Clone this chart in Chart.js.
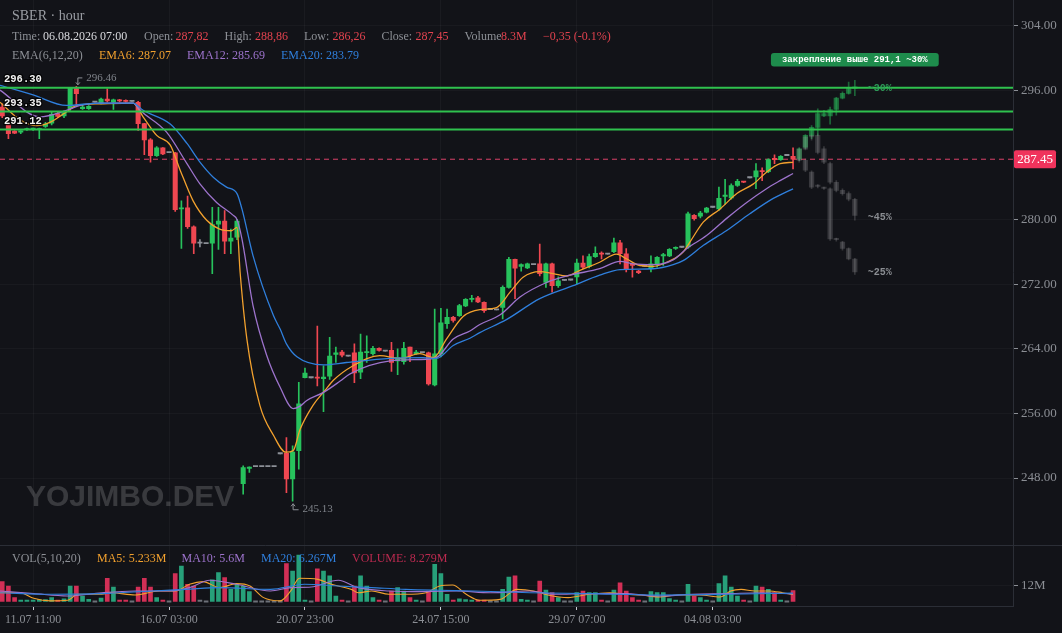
<!DOCTYPE html>
<html><head><meta charset="utf-8">
<script src="https://cdn.jsdelivr.net/npm/chart.js@4/dist/chart.umd.min.js"></script>
<style>html,body{margin:0;padding:0;background:#121318;}canvas{display:block}</style>
</head><body>
<canvas id="c" width="1062" height="633"></canvas>
<script>
// ---------- DATA ----------
const timeLabels = ['11.07 11:00','16.07 03:00','20.07 23:00','24.07 15:00','29.07 07:00','04.08 03:00'];
const timeLabelIdx = [5,27,49,71,93,115];
const opens = [293.9,291.84,290.93,290.8,291.1,291.15,291.1,291.5,291.9,293.1,
 292.8,293.7,296.2,293.7,293.7,294.5,294.4,294.9,294.5,294.75,
 294.7,294.6,294.5,291.85,289.85,287.9,288.85,288.25,288.25,281.3,
 281.45,279.1,277.05,277.0,277.05,279.4,279.8,277.3,277.8,247.3,
 249.2,249.4,249.4,249.4,249.4,251.0,251.05,247.88,251.4,260.43,
 260.4,260.5,260.3,260.6,263.3,263.6,263.07,263.5,261.1,263.5,
 263.4,264.06,263.7,263.8,262.5,262.4,264.2,263.4,263.5,263.5,
 259.52,263.36,267.1,267.9,268.1,269.3,270.1,270.3,269.75,268.85,
 268.8,269.1,271.6,275.05,274.2,274.0,274.4,274.5,272.2,274.5,
 271.8,272.45,272.5,272.9,274.6,274.2,275.4,275.8,275.7,276.0,
 277.1,275.75,274.4,273.6,274.2,273.9,274.5,275.5,275.5,276.4,
 276.55,276.6,280.5,280.4,280.9,281.5,281.3,282.85,282.65,284.2,
 284.65,285.15,285.25,285.95,285.9,287.45,287.4,287.9,287.82];
const highs = [294.3,292.0,291.0,291.0,291.3,291.3,291.3,292.0,293.3,293.3,
 293.4,296.3,296.46,294.2,294.1,294.5,295.0,296.15,294.9,294.85,
 294.8,294.6,294.6,291.9,290.0,289.0,288.9,288.25,288.3,282.3,
 282.9,279.2,277.5,277.0,281.5,281.5,281.1,278.8,280.0,249.5,
 249.4,249.4,249.4,249.4,249.4,251.0,253.0,252.0,259.85,261.6,
 260.4,266.8,261.9,265.4,264.2,263.8,263.07,264.6,265.8,265.6,
 264.3,264.1,263.7,264.8,264.0,264.8,264.2,263.8,263.5,263.6,
 268.9,269.0,268.9,268.0,269.5,270.2,270.6,270.5,269.8,268.85,
 268.8,271.8,275.3,275.1,274.5,274.6,274.4,276.95,274.6,274.6,
 272.9,272.45,272.5,275.1,275.5,275.7,276.6,276.0,275.7,277.7,
 277.4,276.4,274.5,273.7,274.2,275.5,275.4,275.8,276.4,276.6,
 276.55,280.9,280.6,281.0,281.5,281.5,284.0,284.95,284.4,284.95,
 284.7,285.15,286.9,286.4,287.5,288.0,287.9,287.9,288.86];
const lows = [292.6,290.0,290.6,290.6,291.0,291.0,290.0,291.4,291.7,292.6,
 292.6,293.5,294.1,293.6,293.6,294.5,294.3,294.5,293.6,294.55,
 294.5,294.6,291.0,288.0,287.1,287.8,288.0,288.25,281.0,276.4,
 278.9,275.75,276.6,277.0,273.3,276.3,275.75,275.75,277.5,246.0,
 248.7,249.4,249.4,249.4,249.4,251.0,246.2,245.13,249.1,260.4,
 260.4,259.4,256.2,260.2,262.3,263.0,263.07,259.8,260.3,262.3,
 263.2,263.7,263.7,261.2,260.8,262.1,262.4,263.3,263.5,259.5,
 259.4,263.0,266.5,267.3,268.0,269.2,269.8,269.7,268.5,268.85,
 268.8,267.7,271.5,270.2,273.6,273.9,274.4,273.0,271.6,271.0,
 271.6,272.45,272.5,272.0,273.9,274.0,275.3,275.1,275.7,275.9,
 274.5,273.5,272.85,273.3,274.2,273.5,274.1,274.3,275.4,276.3,
 276.55,276.4,279.9,280.2,280.8,281.5,281.1,281.9,282.5,284.1,
 284.55,285.15,283.8,284.8,285.8,286.9,287.3,287.9,286.26];
const closes = [292.8,290.6,290.68,290.85,291.2,291.2,291.2,291.8,293.0,292.75,
 293.2,296.3,295.55,293.9,294.0,294.5,294.9,294.65,294.8,294.65,
 294.6,294.6,291.85,289.85,287.9,288.85,288.1,288.25,281.2,281.45,
 279.1,277.05,277.05,277.0,279.35,279.8,277.3,277.7,279.8,249.3,
 249.35,249.4,249.4,249.4,249.4,251.0,247.88,251.2,257.2,261.0,
 260.4,260.35,260.5,263.1,263.5,263.2,263.07,261.0,263.6,263.6,
 264.06,263.8,263.7,262.3,262.9,264.06,263.15,263.6,263.5,259.65,
 263.36,267.2,267.9,267.5,269.35,270.1,270.2,269.8,268.7,268.85,
 268.8,271.6,275.05,273.97,274.4,274.5,274.4,273.3,274.5,271.8,
 272.4,272.45,272.5,274.6,274.1,275.4,275.8,275.7,275.7,277.1,
 275.75,273.9,274.3,273.4,274.2,274.5,275.3,275.6,276.3,276.5,
 276.55,280.7,280.1,280.8,281.4,281.5,282.6,282.9,284.2,284.7,
 284.6,285.15,286.0,285.9,287.4,287.4,287.8,287.9,287.45];
const volumes = [14.9,11.6,2.9,0.3,0.3,0.3,1.5,1.5,3.0,1.0,
 2.0,11.6,11.6,4.1,1.6,0,2.5,17.4,10.9,0.3,
 0.3,0,10.9,17.4,10.9,2.9,0.5,0,20.9,26.6,
 12.9,11.6,0.3,0,16.2,21.7,17.9,9.1,12.9,11.6,
 7.4,0,0,0,0,0,28.4,22.9,34.9,1.0,
 0,24.6,22.9,19.2,4.1,0.5,0,11.6,19.2,11.6,
 2.9,0.5,0,7.9,10.4,7.9,2.9,0.5,0,7.9,
 27.9,20.9,5.4,0.5,2.0,1.5,0.5,0.5,1.0,0,
 0,9.1,18.4,19.2,1.6,1.0,0,15.4,8.6,6.6,
 2.9,0,0,6.6,7.9,6.6,6.6,1.1,0,8.6,
 14.1,7.9,2.9,0.5,0,7.4,6.6,6.6,2.1,0.5,
 0,12.9,4.1,2.9,1.1,0,13.4,19.2,10.9,4.1,
 0.5,0,11.6,10.9,9.1,6.6,0.5,0,8.279];
// EMA lines: [candle index, price]
const ema6 = [[-0.36,294.5],[2.9,292.3],[5.6,291.6],[7.7,292.0],[10.4,293.3],[12.1,294.1],[15.8,294.3],[21.2,294.4],[22.8,292.7],[25.0,290.4],[27.2,289.2],[28.8,286.1],[30.9,282.3],[33.1,279.9],[35.2,278.8],[37.1,278.6],[38.0,279.0],[38.5,273.5],[39.6,265.2],[41.7,257.0],[43.9,253.3],[45.9,251.2],[47.1,251.4],[48.2,254.0],[50.3,257.0],[52.2,258.8],[53.6,260.1],[56.8,261.9],[61.1,263.15],[64.4,262.8],[67.6,263.4],[69.8,262.9],[71.9,265.2],[74.6,268.0],[77.3,268.85],[80.0,269.1],[82.2,271.0],[84.3,272.85],[87.0,273.55],[89.2,273.3],[91.3,273.0],[93.5,273.7],[96.7,274.7],[99.4,275.7],[101.1,275.1],[103.2,274.3],[105.4,274.2],[108.1,274.9],[110.2,275.95],[111.3,277.2],[113.5,279.7],[116.2,281.3],[118.9,283.2],[121.6,284.4],[123.7,285.85],[125.9,286.9],[128,287.07]];
const ema12 = [[-0.36,296.0],[6.1,292.7],[10.4,293.5],[12.6,294.1],[15.8,294.4],[21.2,294.4],[22.3,293.5],[26.6,290.8],[29.9,286.9],[32.0,284.4],[34.7,282.1],[37.4,280.5],[38.0,280.0],[38.8,277.6],[40.6,269.3],[42.8,263.2],[45.0,259.2],[47.1,256.6],[48.2,256.9],[49.3,257.6],[52.0,258.6],[54.7,260.0],[56.3,260.9],[62.8,262.5],[68.7,262.7],[70.3,262.9],[73.0,265.2],[75.7,266.2],[77.3,267.0],[80.6,268.2],[83.8,270.4],[88.1,272.2],[91.9,273.1],[96.7,273.9],[100.0,274.8],[102.1,274.5],[105.4,274.4],[108.6,275.0],[110.8,276.4],[114.0,278.0],[117.2,280.1],[120.5,282.1],[123.7,283.8],[125.9,284.8],[128,285.69]];
const ema20 = [[-0.36,296.6],[5.0,295.4],[10.4,294.1],[15.8,294.4],[21.2,294.4],[22.8,293.5],[27.2,291.8],[29.9,289.4],[32.0,287.1],[34.2,285.2],[36.3,284.0],[38.0,283.2],[38.8,281.3],[40.6,275.5],[43.9,268.1],[45.0,266.4],[46.0,264.6],[47.7,263.0],[52.0,262.0],[55.7,262.3],[62.8,262.8],[68.1,262.9],[70.3,262.8],[73.0,264.4],[75.7,265.3],[77.3,266.0],[81.6,267.6],[87.0,270.2],[92.4,271.8],[96.7,273.1],[100.0,273.8],[105.4,273.9],[108.6,274.4],[110.2,274.9],[113.5,276.8],[117.2,278.6],[121.0,280.7],[124.8,282.6],[128,283.79]];
// Volume moving averages: [candle index, millions]
const volMa5 = [[-0.36,6.6],[2.9,6.6],[5.1,2.4],[7.8,0.5],[10.6,0.9],[12.2,5.4],[16.1,5.4],[17.7,6.6],[21.5,4.9],[25.4,7.9],[28.1,7.9],[30.3,12.9],[32.5,14.9],[35.2,10.4],[37.9,13.4],[40.1,11.6],[42.3,2.9],[45.0,0.5],[46.7,7.9],[48.1,17.4],[51.1,16.6],[53.3,12.9],[56.5,9.1],[57.6,6.6],[59.8,7.9],[62.6,5.4],[65.3,5.4],[68.6,6.6],[70.8,11.6],[72.9,12.4],[75.1,5.4],[77.3,0.9],[80.6,1.6],[83.3,9.1],[86.0,7.9],[88.3,4.9],[91.6,2.9],[95.0,5.4],[98.3,6.6],[101.1,5.4],[103.4,4.9],[106.2,3.4],[109.5,4.9],[112.9,4.9],[116.2,3.4],[117.9,7.9],[119.6,9.1],[121.8,7.9],[124.1,7.9],[126.3,6.6],[128,5.233]];
const volMa10 = [[-0.36,7.9],[5.1,5.9],[10.6,4.1],[16.1,6.6],[21.5,7.9],[27.0,7.9],[30.3,10.4],[33.6,15.9],[37.9,12.9],[43.4,7.9],[46.7,10.4],[50.0,10.9],[54.4,15.9],[57.6,10.4],[62.6,7.9],[68.0,7.4],[73.5,7.9],[79.0,6.6],[85.4,7.9],[89.4,5.4],[95.0,5.9],[100.6,5.9],[106.2,4.1],[111.7,5.4],[117.3,5.9],[122.9,6.6],[128,5.6]];
const volMa20 = [[-0.36,6.6],[7.8,5.4],[16.1,5.9],[24.3,7.9],[29.7,9.1],[35.2,10.4],[43.4,9.1],[48.9,12.9],[54.4,11.6],[59.8,10.4],[65.3,9.1],[70.8,8.4],[76.2,7.9],[85.4,6.6],[95.0,5.9],[106.2,4.9],[117.3,5.4],[128,6.267]];
// Levels and scenario projections ([open, high, low, close] from index projStart)
const levels = [296.30, 293.35, 291.12];
const lastClose = 287.45;
const projStart = 129;
const proj30 = [[287.5,288.9,287.3,288.75],[288.95,290.5,288.8,290.4],[290.4,291.6,290.0,291.4],[291.4,293.7,290.4,293.1],[292.8,293.5,292.7,293.1],[292.8,293.9,291.8,293.6],[293.6,295.1,292.9,295.0],[295.0,295.8,294.9,295.6],[295.6,297.0,295.5,296.3],[296.2,297.2,295.3,296.4]];
const proj45 = [[287.45,288.8,287.3,288.7],[288.7,290.3,288.6,290.2],[290.2,290.6,289.8,290.4],[290.4,290.6,288.1,288.3],[288.75,289.0,286.9,287.1],[286.9,287.1,284.4,284.6],[284.6,284.8,283.4,283.6],[283.6,283.8,283.0,283.2],[283.2,283.4,282.3,282.5],[282.5,282.6,279.9,280.5]];
const proj25 = [[287.45,287.7,287.1,287.3],[287.3,287.5,285.9,286.1],[285.85,286.0,283.8,284.0],[284.1,284.3,283.9,284.1],[283.9,284.0,283.7,283.85],[283.8,283.9,277.4,277.6],[277.5,277.7,277.3,277.5],[277.2,277.3,276.2,276.4],[276.4,276.5,275.0,275.1],[275.1,275.2,273.2,273.5]];
const projLabels = ['~30%','~45%','~25%'];
const bannerText = 'закрепление выше 291,1 ~30%';
const priceTicks = [248,256,264,272,280,296,304];
const volTicks = [12];
const hiMark = [12, 296.46];
const loMark = [47, 245.13];

// ---------- STYLE ----------
const BG = '#121318';
const UP = '#27c25c', DOWN = '#ef4751', FLAT = '#8c9097';
const VUP = '#27a07a', VDOWN = '#d22f56', VFLAT = '#6d7178';
const ORANGE = '#f2a12e', PURPLE = '#9d73cc', BLUE = '#2f7fdc';
const SERIF = "'Liberation Serif','DejaVu Serif',serif";
const MONO = "'Liberation Mono','DejaVu Sans Mono',monospace";
const xMin = -0.36, xMax = 163.6;

const idx = opens.map((_, i) => i);
const candleColor = idx.map(i => closes[i] > opens[i] ? UP : (closes[i] < opens[i] ? DOWN : FLAT));
const volColor = idx.map(i => closes[i] > opens[i] ? VUP : (closes[i] < opens[i] ? VDOWN : VFLAT));
const pts = arr => arr.map(p => ({x: p[0], y: p[1]}));

function ghostSets(path, body, wick) {
  return [
    {type:'bar', yAxisID:'y', order:6, grouped:false, barThickness:1, backgroundColor: wick,
     data: path.map((c, k) => ({x: projStart + k, y: [c[2], c[1]]}))},
    {type:'bar', yAxisID:'y', order:5, grouped:false, barThickness:4.6, minBarLength:1.2, backgroundColor: body,
     data: path.map((c, k) => ({x: projStart + k, y: [Math.min(c[0], c[3]), Math.max(c[0], c[3])]}))}
  ];
}

const datasets = [
  ...levels.map(L => ({type:'line', yAxisID:'y', order:0, borderColor:'#2fc24e', borderWidth:2, pointRadius:0,
     data:[{x:xMin, y:L}, {x:xMax, y:L}]})),
  {type:'line', yAxisID:'y', order:9, borderColor:'rgba(232,68,110,0.95)', borderWidth:1, borderDash:[5,4], pointRadius:0,
   data:[{x:xMin, y:lastClose}, {x:xMax, y:lastClose}]},
  {type:'line', yAxisID:'y', order:1, borderColor:BLUE, borderWidth:1.3, pointRadius:0, cubicInterpolationMode:'monotone', data: pts(ema20)},
  {type:'line', yAxisID:'y', order:1, borderColor:PURPLE, borderWidth:1.3, pointRadius:0, cubicInterpolationMode:'monotone', data: pts(ema12)},
  {type:'line', yAxisID:'y', order:1, borderColor:ORANGE, borderWidth:1.3, pointRadius:0, cubicInterpolationMode:'monotone', data: pts(ema6)},
  {type:'bar', yAxisID:'y', order:3, grouped:false, barThickness:1, backgroundColor: candleColor,
   data: idx.map(i => ({x:i, y:[lows[i], highs[i]]}))},
  {type:'bar', yAxisID:'y', order:2, grouped:false, barThickness:4.4, minBarLength:1.2, backgroundColor: candleColor,
   data: idx.map(i => ({x:i, y:[Math.min(opens[i], closes[i]), Math.max(opens[i], closes[i])]}))},
  ...ghostSets(proj25, 'rgba(150,150,155,0.28)', 'rgba(150,150,155,0.28)'),
  ...ghostSets(proj45, 'rgba(150,150,155,0.28)', 'rgba(150,150,155,0.28)'),
  ...ghostSets(proj30, 'rgba(38,170,84,0.6)', 'rgba(38,170,84,0.55)'),
  {type:'bar', yAxisID:'yv', order:4, grouped:false, barThickness:4, minBarLength:1.5, backgroundColor: volColor,
   data: idx.map(i => ({x:i, y:volumes[i]}))},
  {type:'line', yAxisID:'yv', order:1, borderColor:BLUE, borderWidth:1.1, pointRadius:0, cubicInterpolationMode:'monotone', data: pts(volMa20)},
  {type:'line', yAxisID:'yv', order:1, borderColor:PURPLE, borderWidth:1.1, pointRadius:0, cubicInterpolationMode:'monotone', data: pts(volMa10)},
  {type:'line', yAxisID:'yv', order:1, borderColor:ORANGE, borderWidth:1.1, pointRadius:0, cubicInterpolationMode:'monotone', data: pts(volMa5)}
];

function t(ctx, s, x, y, color, font, align) {
  ctx.font = font; ctx.fillStyle = color; ctx.textAlign = align || 'left'; ctx.textBaseline = 'middle';
  ctx.fillText(s, x, y);
}
function rrect(ctx, x, y, w, h, r) {
  ctx.beginPath(); ctx.moveTo(x + r, y); ctx.lineTo(x + w - r, y); ctx.quadraticCurveTo(x + w, y, x + w, y + r);
  ctx.lineTo(x + w, y + h - r); ctx.quadraticCurveTo(x + w, y + h, x + w - r, y + h); ctx.lineTo(x + r, y + h);
  ctx.quadraticCurveTo(x, y + h, x, y + h - r); ctx.lineTo(x, y + r); ctx.quadraticCurveTo(x, y, x + r, y); ctx.closePath();
}

const deco = {
  id: 'deco',
  beforeDraw(chart) {
    const ctx = chart.ctx; ctx.save(); ctx.fillStyle = BG; ctx.fillRect(0, 0, chart.width, chart.height); ctx.restore();
  },
  beforeDatasetsDraw(chart) {
    const ctx = chart.ctx; ctx.save();
    t(ctx, 'YOJIMBO.DEV', 26, 498, 'rgba(255,255,255,0.17)', "bold 30px 'Liberation Sans', Arial, sans-serif");
    ctx.restore();
  },
  afterDatasetsDraw(chart) {
    const ctx = chart.ctx, xs = chart.scales.x, ys = chart.scales.y, yv = chart.scales.yv;
    ctx.save();
    ctx.strokeStyle = '#2b2e36'; ctx.lineWidth = 1;
    ctx.beginPath(); ctx.moveTo(0, Math.round(yv.top) + 0.5); ctx.lineTo(chart.width, Math.round(yv.top) + 0.5); ctx.stroke();
    const G = '#8d9096', R = '#e2434f', F = '12px ' + SERIF;
    t(ctx, 'SBER · hour', 12, 16, '#9a9da3', '14px ' + SERIF);
    t(ctx, 'Time:', 12, 37, G, F);
    t(ctx, '06.08.2026 07:00', 43, 37, '#d9dade', F);
    t(ctx, 'Open:', 144, 37, G, F); t(ctx, '287,82', 175.5, 37, R, F);
    t(ctx, 'High:', 224.5, 37, G, F); t(ctx, '288,86', 255, 37, R, F);
    t(ctx, 'Low:', 304, 37, G, F); t(ctx, '286,26', 332.5, 37, R, F);
    t(ctx, 'Close:', 381.5, 37, G, F); t(ctx, '287,45', 415.5, 37, R, F);
    t(ctx, 'Volume', 464.5, 37, G, F); t(ctx, '8.3M', 501, 37, R, F);
    t(ctx, '−0,35 (-0.1%)', 543, 37, R, F);
    t(ctx, 'EMA(6,12,20)', 12, 56, G, F);
    t(ctx, 'EMA6: 287.07', 99, 56, ORANGE, F);
    t(ctx, 'EMA12: 285.69', 187, 56, PURPLE, F);
    t(ctx, 'EMA20: 283.79', 281, 56, BLUE, F);
    t(ctx, 'VOL(5,10,20)', 12, 559, G, F);
    t(ctx, 'MA5: 5.233M', 97, 559, ORANGE, F);
    t(ctx, 'MA10: 5.6M', 181.5, 559, PURPLE, F);
    t(ctx, 'MA20: 6.267M', 261, 559, BLUE, F);
    t(ctx, 'VOLUME: 8.279M', 352, 559, '#b92a4f', F);
    ctx.font = "bold 10.5px " + MONO; ctx.textAlign = 'left'; ctx.textBaseline = 'middle';
    levels.forEach(L => {
      const y = ys.getPixelForValue(L) - 8;
      ctx.lineWidth = 2.5; ctx.strokeStyle = 'rgba(0,0,0,0.85)'; ctx.strokeText(L.toFixed(2), 4, y);
      ctx.fillStyle = '#f2f2f2'; ctx.fillText(L.toFixed(2), 4, y);
    });
    ctx.strokeStyle = '#8d9096'; ctx.fillStyle = '#8d9096'; ctx.lineWidth = 1;
    let hx = xs.getPixelForValue(hiMark[0]), hy = ys.getPixelForValue(hiMark[1]);
    ctx.beginPath(); ctx.moveTo(hx + 6, hy - 8.5); ctx.lineTo(hx + 1.5, hy - 8.5); ctx.lineTo(hx + 1.5, hy - 2); ctx.stroke();
    ctx.beginPath(); ctx.moveTo(hx - 0.5, hy - 4); ctx.lineTo(hx + 1.5, hy - 1.5); ctx.lineTo(hx + 3.5, hy - 4); ctx.stroke();
    t(ctx, hiMark[1].toFixed(2), hx + 10, hy - 8, '#7f838a', '11px ' + SERIF);
    let lx = xs.getPixelForValue(loMark[0]), ly = ys.getPixelForValue(loMark[1]);
    ctx.beginPath(); ctx.moveTo(lx + 6, ly + 8.5); ctx.lineTo(lx + 0.5, ly + 8.5); ctx.lineTo(lx + 0.5, ly + 2.5); ctx.stroke();
    ctx.beginPath(); ctx.moveTo(lx - 1.5, ly + 5); ctx.lineTo(lx + 0.5, ly + 2.5); ctx.lineTo(lx + 2.5, ly + 5); ctx.stroke();
    t(ctx, loMark[1].toFixed(2), lx + 10, ly + 8, '#7f838a', '11px ' + SERIF);
    const endX = xs.getPixelForValue(projStart + proj30.length - 1) + 13;
    const pf = 'bold 10px ' + MONO;
    t(ctx, projLabels[0], endX, ys.getPixelForValue(proj30[proj30.length - 1][3]) + 2, '#2e9a58', pf);
    t(ctx, projLabels[1], endX, ys.getPixelForValue(proj45[proj45.length - 1][3]) + 2, '#8a8d92', pf);
    t(ctx, projLabels[2], endX, ys.getPixelForValue(proj25[proj25.length - 1][3]) + 1, '#8a8d92', pf);
    ctx.font = 'bold 9px ' + MONO;
    const bw = ctx.measureText(bannerText).width + 22, bcx = xs.getPixelForValue(projStart + proj30.length - 1);
    ctx.fillStyle = '#1e8c4c'; rrect(ctx, bcx - bw / 2, 53, bw, 13.5, 3); ctx.fill();
    t(ctx, bannerText, bcx, 60, '#ffffff', 'bold 9px ' + MONO, 'center');
    const py = ys.getPixelForValue(lastClose);
    ctx.fillStyle = '#f0335c'; rrect(ctx, 1014, py - 9, 42, 18, 2); ctx.fill();
    t(ctx, lastClose.toFixed(2), 1035, py + 0.5, '#ffffff', '13px ' + SERIF, 'center');
    ctx.restore();
  }
};

const noPad = s => { s.paddingTop = 0; s.paddingBottom = 0; s.paddingLeft = 0; s.paddingRight = 0; };

new Chart(document.getElementById('c'), {
  type: 'bar',
  data: { datasets },
  options: {
    responsive: false, devicePixelRatio: 1, animation: false, events: [],
    layout: { padding: 0 },
    plugins: { legend: { display: false }, tooltip: { enabled: false } },
    scales: {
      x: {
        type: 'linear', min: xMin, max: xMax, offset: false,
        afterBuildTicks: s => { s.ticks = timeLabelIdx.map(v => ({value: v})); },
        afterFit: s => { s.height = 27; noPad(s); },
        ticks: { autoSkip: false, maxRotation: 0, padding: 3, color: '#8b8e94', font: { family: SERIF, size: 12 },
                 callback: (v, i) => timeLabels[i] },
        grid: { offset: false, color: 'rgba(255,255,255,0.035)', tickColor: '#c9ccd2', tickLength: 4 },
        border: { color: '#2b2e36' }
      },
      y: {
        type: 'linear', position: 'right', stack: 'panes', stackWeight: 544.5, min: 239.78, max: 307.15,
        afterBuildTicks: s => { s.ticks = priceTicks.map(v => ({value: v})); },
        afterFit: s => { s.width = 49; noPad(s); },
        ticks: { padding: 3, color: '#8b8e94', font: { family: SERIF, size: 13 }, callback: v => v.toFixed(2) },
        grid: { color: 'rgba(255,255,255,0.03)', tickColor: '#8b8e94', tickLength: 5 },
        border: { color: '#2b2e36' }
      },
      yv: {
        type: 'linear', position: 'right', stack: 'panes', stackWeight: 61.5, min: -3.375, max: 42.76,
        afterBuildTicks: s => { s.ticks = volTicks.map(v => ({value: v})); },
        afterFit: s => { s.width = 49; noPad(s); },
        ticks: { padding: 3, color: '#8b8e94', font: { family: SERIF, size: 13 }, callback: v => v + 'M' },
        grid: { color: 'rgba(255,255,255,0.03)', tickColor: '#8b8e94', tickLength: 5 },
        border: { color: '#2b2e36' }
      }
    }
  },
  plugins: [deco]
});
</script>
</body></html>
